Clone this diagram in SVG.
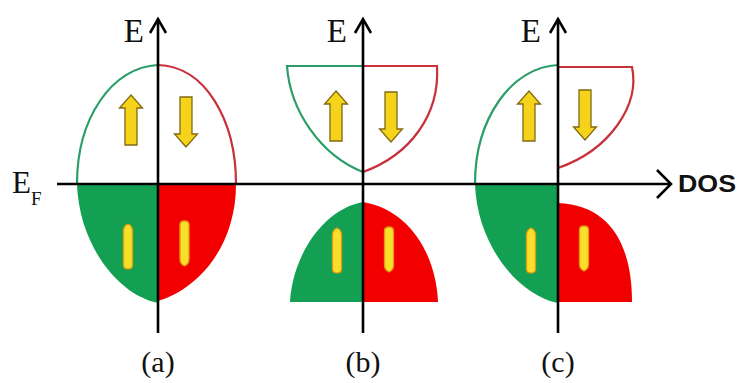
<svg xmlns="http://www.w3.org/2000/svg" width="737" height="383" viewBox="0 0 737 383">
<style>
.gs{fill:none;stroke:#2a9e68;stroke-width:2.2}
.rs{fill:none;stroke:#c8313a;stroke-width:2.2}
.gf{fill:#14a052}
.rf{fill:#f20000}
.ax{fill:none;stroke:#000;stroke-width:2.6}
.ah{fill:none;stroke:#000;stroke-width:2.6;stroke-linejoin:miter}
.big{fill:#f5d31a;stroke:#806a12;stroke-width:1.3}
.thin{fill:#f7df2c;stroke:#e39a12;stroke-width:1.3}
.ser{font-family:"Liberation Serif","Times New Roman",serif;fill:#111}
.dos{font-family:"Liberation Sans",Arial,sans-serif;font-weight:bold;font-size:23px;fill:#111}
</style>
<defs>
<path id="bigUp" d="M0,0 L11.5,13 L6,13 L6,50 L-6,50 L-6,13 L-11.5,13 Z"/>
<path id="thinA" d="M0,0 Q4.5,2 4.5,7 L4.5,41 Q4.5,45 0,45 Q-4.5,45 -4.5,41 L-4.5,7 Q-4.5,2 0,0 Z"/>
</defs>
<rect width="737" height="383" fill="#fff"/>

<g id="panel-a">
<path class="gf" d="M158,184 L77,184 C79,245 118,295 158,303 Z"/>
<path class="rf" d="M158,184 L236,184 C236,245 200,288 158,301 Z"/>
<path class="gs" d="M158,65 C112,67 77,118 77,184"/>
<path class="rs" d="M158,65 C205,66 236,120 236,184"/>
</g>

<g id="panel-b">
<path class="gf" d="M363,202 C320,210 292,260 290,302 L363,302 Z"/>
<path class="rf" d="M363,202 C410,210 436,255 438,302 L363,302 Z"/>
<path class="gs" d="M363,66 L287,66 C290,110 320,155 363,172"/>
<path class="rs" d="M363,66 L437,66 C440,115 410,155 363,172"/>
</g>

<g id="panel-c">
<path class="gf" d="M558,184 L475,184 C477,245 518,295 558,303 Z"/>
<path class="rf" d="M558,203 C610,205 632,245 632,302 L558,302 Z"/>
<path class="gs" d="M558,65 C512,67 475,118 475,184"/>
<path class="rs" d="M558,67 L632,67 C640,105 610,150 558,168"/>
</g>

<g id="connectors">
<line class="ax" x1="57" y1="184" x2="671" y2="184"/>
<polyline class="ah" points="657,170 671,184 657,198"/>
<line class="ax" x1="158" y1="333" x2="158" y2="19"/>
<polyline class="ah" points="150,33 158,19 166,33"/>
<line class="ax" x1="363" y1="333" x2="363" y2="19"/>
<polyline class="ah" points="355,33 363,19 371,33"/>
<line class="ax" x1="558" y1="333" x2="558" y2="19"/>
<polyline class="ah" points="550,33 558,19 566,33"/>
</g>

<g id="spin-arrows">
<use href="#bigUp" class="big" transform="translate(131,95)"/>
<use href="#bigUp" class="big" transform="translate(186,147) rotate(180)"/>
<use href="#bigUp" class="big" transform="translate(336,91)"/>
<use href="#bigUp" class="big" transform="translate(391,142) rotate(180)"/>
<use href="#bigUp" class="big" transform="translate(529,91)"/>
<use href="#bigUp" class="big" transform="translate(585,140) rotate(180)"/>
<use href="#thinA" class="thin" transform="translate(128,224)"/>
<use href="#thinA" class="thin" transform="translate(184.5,266) rotate(180)"/>
<use href="#thinA" class="thin" transform="translate(337,228)"/>
<use href="#thinA" class="thin" transform="translate(389,272) rotate(180)"/>
<use href="#thinA" class="thin" transform="translate(531,228)"/>
<use href="#thinA" class="thin" transform="translate(584,271) rotate(180)"/>
</g>

<g id="labels">
<text class="ser" x="144" y="42" font-size="33" text-anchor="end">E</text>
<text class="ser" x="347" y="42" font-size="33" text-anchor="end">E</text>
<text class="ser" x="541" y="42" font-size="33" text-anchor="end">E</text>
<text class="ser" x="12" y="193" font-size="31">E<tspan font-size="19" dy="12">F</tspan></text>
<text class="dos" x="678" y="192" textLength="58" lengthAdjust="spacingAndGlyphs">DOS</text>
<text class="ser" x="158" y="372" font-size="30" text-anchor="middle">(a)</text>
<text class="ser" x="363" y="372" font-size="30" text-anchor="middle">(b)</text>
<text class="ser" x="558" y="372" font-size="30" text-anchor="middle">(c)</text>
</g>
</svg>
